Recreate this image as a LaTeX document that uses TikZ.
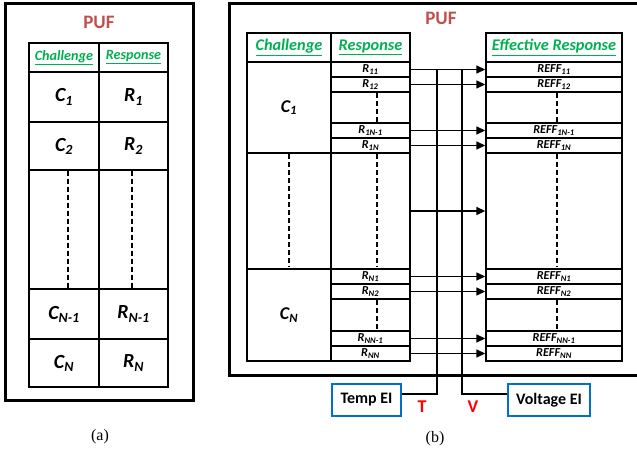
\documentclass[tikz,border=0pt]{standalone}
\usepackage{fontspec}
\setmainfont{Carlito}
\newfontfamily\capfont{Liberation Serif}
\usetikzlibrary{arrows.meta}
\definecolor{pufred}{RGB}{192,80,77}
\definecolor{hdrgreen}{RGB}{0,176,80}
\definecolor{eiblue}{RGB}{0,112,192}
\definecolor{tvred}{RGB}{255,0,0}
\newcommand\mkcell[7][]{\node[cellbox,minimum width={#5-#3},minimum height={#6-#4},#1] (#2) at ({(#3+#5)/2},{(#4+#6)/2}) {#7};}
\newcommand\sbs[1]{\textsubscript{#1}}
\begin{document}
\begin{tikzpicture}[x=1pt,y=-1pt,
  outerbox/.style={line width=3pt},
  cellbox/.style={draw, line width=1.4pt, inner sep=0pt, font=\bfseries\itshape},
  hdrA/.style={text=hdrgreen, font=\bfseries\itshape\fontsize{14.2}{16}\selectfont},
  hdrB/.style={text=hdrgreen, font=\bfseries\itshape\fontsize{16.3}{18}\selectfont},
  bigA/.style={font=\bfseries\itshape\fontsize{20}{22}\selectfont},
  bigB/.style={font=\bfseries\itshape\fontsize{18}{20}\selectfont},
  small/.style={font=\bfseries\itshape\fontsize{12.2}{13}\selectfont},
  puflabel/.style={text=pufred, font=\bfseries\fontsize{19}{21}\selectfont},
  dashline/.style={line width=1.4pt, dash pattern=on 5pt off 3pt},
  arrowline/.style={line width=1.4pt, -{Triangle[length=9pt,width=8pt]}},
  wire/.style={line width=1.4pt},
  eibox/.style={draw=eiblue, line width=2.5pt, inner sep=0pt, font=\bfseries\fontsize{16}{18}\selectfont},
  tvlabel/.style={text=tvred, font=\bfseries\fontsize{18}{20}\selectfont},
  caption/.style={font=\capfont\fontsize{16}{18}\selectfont}
]
\useasboundingbox (0,0) rectangle (637,454);

% ---------------- (a) ----------------
\draw[outerbox] (5,4) rectangle (193,400);
\node[puflabel] (pufA) at (99,22) {PUF};
\mkcell[hdrA]{aCh}{29}{43}{99}{72}{\underline{Challenge}}
\mkcell[hdrA]{aRe}{99}{43}{168}{72}{\underline{Response}}
\mkcell[bigA]{aC1}{29}{72}{99}{122}{C\sbs{1}}
\mkcell[bigA]{aR1}{99}{72}{168}{122}{R\sbs{1}}
\mkcell[bigA]{aC2}{29}{122}{99}{170}{C\sbs{2}}
\mkcell[bigA]{aR2}{99}{122}{168}{170}{R\sbs{2}}
\mkcell{aCd}{29}{170}{99}{289}{}
\mkcell{aRd}{99}{170}{168}{289}{}
\mkcell[bigA]{aCn1}{29}{289}{99}{339}{C\sbs{N-1}}
\mkcell[bigA]{aRn1}{99}{289}{168}{339}{R\sbs{N-1}}
\mkcell[bigA]{aCn}{29}{339}{99}{387}{C\sbs{N}}
\mkcell[bigA]{aRn}{99}{339}{168}{387}{R\sbs{N}}
\draw[dashline] (68,171) -- (68,289);
\draw[dashline] (132,171) -- (132,289);
\node[caption] (capA) at (100,437) {(a)};

% ---------------- (b) ----------------
\draw[outerbox] (637,4) -- (229,4) -- (229,375) -- (637,375);
\node[puflabel] (pufB) at (441,18) {PUF};
\mkcell[hdrB]{bCh}{247}{33}{331}{62}{\underline{Challenge}}
\mkcell[hdrB]{bRe}{331}{33}{410}{62}{\underline{Response}}
\mkcell[hdrB]{bEf}{486}{33}{622}{62}{\underline{Effective Response}}
\mkcell[bigB]{bC1}{247}{62}{331}{153}{C\sbs{1}}
\mkcell{bCm}{247}{153}{331}{269}{}
\mkcell[bigB]{bCn}{247}{269}{331}{361}{C\sbs{N}}
% responses
\mkcell[small]{r11}{331}{62}{410}{77}{R\sbs{11}}
\mkcell[small]{r12}{331}{77}{410}{92}{R\sbs{12}}
\mkcell{r1g}{331}{92}{410}{123}{}
\mkcell[small]{r1n1}{331}{123}{410}{138}{R\sbs{1N-1}}
\mkcell[small]{r1n}{331}{138}{410}{153}{R\sbs{1N}}
\mkcell{rm}{331}{153}{410}{269}{}
\mkcell[small]{rn1}{331}{269}{410}{284}{R\sbs{N1}}
\mkcell[small]{rn2}{331}{284}{410}{299}{R\sbs{N2}}
\mkcell{rng}{331}{299}{410}{331}{}
\mkcell[small]{rnn1}{331}{331}{410}{346}{R\sbs{NN-1}}
\mkcell[small]{rnn}{331}{346}{410}{361}{R\sbs{NN}}
% effective responses
\mkcell[small]{e11}{486}{62}{622}{77}{REFF\sbs{11}}
\mkcell[small]{e12}{486}{77}{622}{92}{REFF\sbs{12}}
\mkcell{e1g}{486}{92}{622}{123}{}
\mkcell[small]{e1n1}{486}{123}{622}{138}{REFF\sbs{1N-1}}
\mkcell[small]{e1n}{486}{138}{622}{153}{REFF\sbs{1N}}
\mkcell{em}{486}{153}{622}{269}{}
\mkcell[small]{en1}{486}{269}{622}{284}{REFF\sbs{N1}}
\mkcell[small]{en2}{486}{284}{622}{299}{REFF\sbs{N2}}
\mkcell{eng}{486}{299}{622}{331}{}
\mkcell[small]{enn1}{486}{331}{622}{346}{REFF\sbs{NN-1}}
\mkcell[small]{enn}{486}{346}{622}{361}{REFF\sbs{NN}}
% dashed lines
\draw[dashline] (289,154) -- (289,267);
\foreach \xx in {377,557} {
  \draw[dashline] (\xx,93) -- (\xx,123);
  \draw[dashline] (\xx,154) -- (\xx,267);
  \draw[dashline] (\xx,300) -- (\xx,331);
}
% arrows
\foreach \a/\b in {r11/e11, r12/e12, r1n1/e1n1, r1n/e1n, rm/em, rn1/en1, rn2/en2, rnn1/enn1, rnn/enn}
  \draw[arrowline] (\a.east) -- (\b.west);
% EI boxes
\node[eibox, minimum width=69, minimum height=32] (tempEI) at (366.5,400) {Temp EI};
\node[eibox, minimum width=82, minimum height=32] (voltEI) at (549,400) {Voltage EI};
\coordinate (tTop) at (437,69.5);
\coordinate (vTop) at (462,69.5);
\draw[wire] (tTop) |- ([yshift=6pt]tempEI.east);
\draw[wire] (vTop) |- ([yshift=6pt]voltEI.west);
\node[tvlabel] (tLab) at (422,407) {T};
\node[tvlabel] (vLab) at (473,407) {V};
\node[caption] (capB) at (435,439) {(b)};
\end{tikzpicture}
\end{document}
